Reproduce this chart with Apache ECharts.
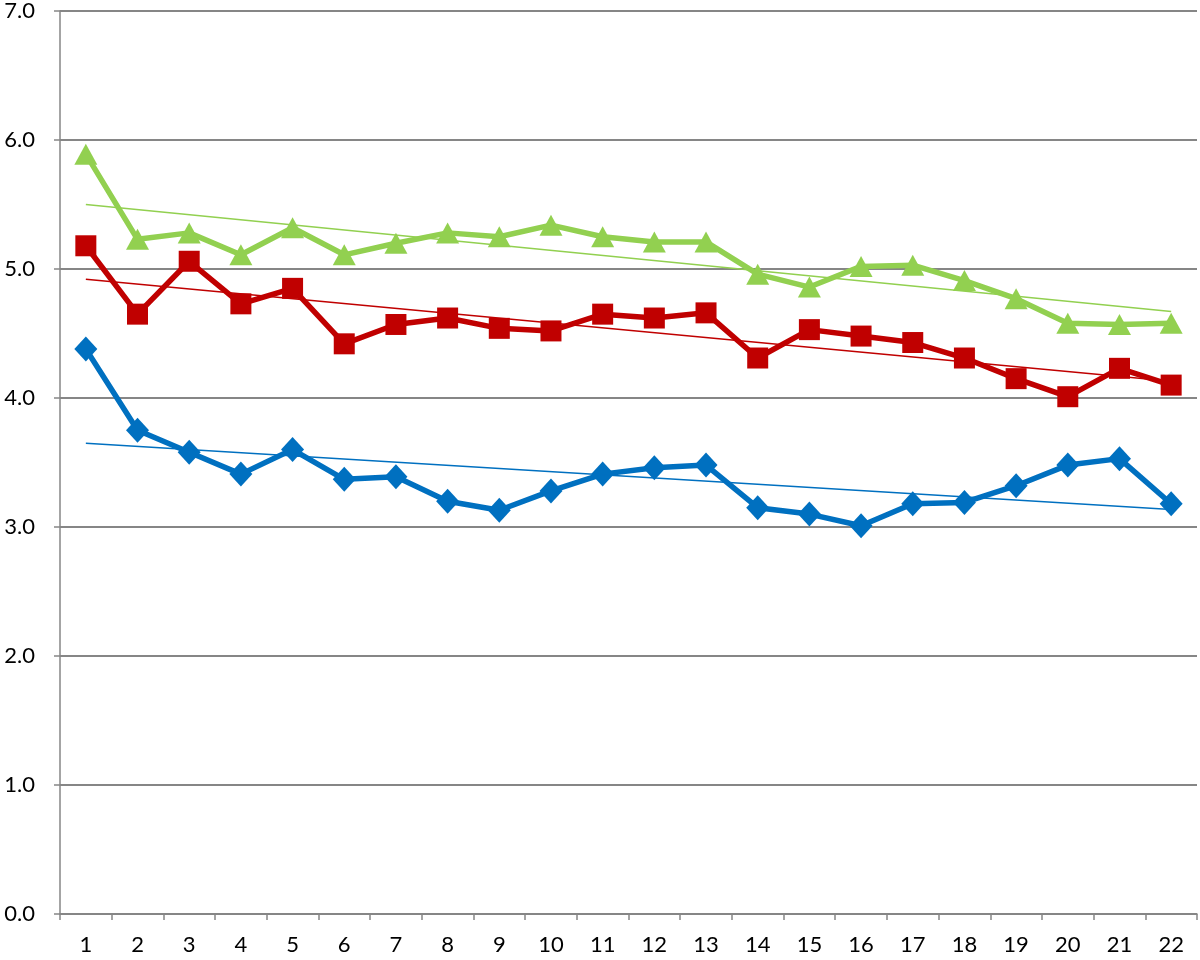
<!DOCTYPE html>
<html>
<head>
<meta charset="utf-8">
<title>chart</title>
<script src="https://cdn.jsdelivr.net/npm/echarts@6/dist/echarts.min.js"></script>
<style>
  html, body { margin: 0; padding: 0; background: #fff; }
  #chart { width: 1200px; height: 960px; }
</style>
</head>
<body>
<div id="chart"></div>
<script>
// x categories 1..22
const categories = ['1', '2', '3', '4', '5', '6', '7', '8', '9', '10', '11',
  '12', '13', '14', '15', '16', '17', '18', '19', '20', '21', '22']

// series values
const blueValues = [4.38, 3.75, 3.58, 3.41, 3.60, 3.37, 3.39, 3.20, 3.13, 3.28, 3.41,
  3.46, 3.48, 3.15, 3.10, 3.01, 3.18, 3.19, 3.32, 3.48, 3.53, 3.18]
const redValues = [5.18, 4.65, 5.06, 4.73, 4.85, 4.42, 4.57, 4.62, 4.54, 4.52, 4.65,
  4.62, 4.66, 4.31, 4.53, 4.48, 4.43, 4.31, 4.15, 4.01, 4.23, 4.10]
const greenValues = [5.89, 5.23, 5.28, 5.11, 5.32, 5.11, 5.20, 5.28, 5.25, 5.34, 5.25,
  5.21, 5.21, 4.96, 4.86, 5.02, 5.03, 4.91, 4.77, 4.58, 4.57, 4.58]

// trend line end points (first and last category)
const blueTrend = [3.65, 3.135]
const redTrend = [4.92, 4.13]
const greenTrend = [5.50, 4.67]

// y axis ticks
const yTicks = [0, 1, 2, 3, 4, 5, 6, 7]

const gray = '#868686'
const font = 'Lato, "Open Sans", sans-serif'

function trendData(ends) {
  // only the two end points, joined by the library
  return [[0, ends[0]], [categories.length - 1, ends[1]]]
}

function dataSeries(name, values, color, symbol, size) {
  return {
    name: name,
    type: 'line',
    data: values,
    symbol: symbol,
    symbolSize: size,
    showAllSymbol: true,
    z: 3,
    lineStyle: { color: color, width: 5.5 },
    itemStyle: { color: color }
  }
}

function trendSeries(name, ends, color) {
  return {
    name: name,
    type: 'line',
    data: trendData(ends),
    symbol: 'none',
    z: 4,
    silent: true,
    lineStyle: { color: color, width: 1.5 }
  }
}

const chart = echarts.init(document.getElementById('chart'), null, { renderer: 'canvas' })

chart.setOption({
  animation: false,
  backgroundColor: '#fff',
  grid: {
    left: 60,
    right: 3,
    top: 11,
    bottom: 46
  },
  xAxis: {
    type: 'category',
    data: categories,
    boundaryGap: true,
    axisLine: { show: true, lineStyle: { color: gray, width: 1.5 } },
    axisTick: { show: true, length: 6, lineStyle: { color: gray, width: 1.5 } },
    axisLabel: {
      color: '#000',
      fontFamily: font,
      fontSize: 22,
      margin: 20
    },
    splitLine: { show: false }
  },
  yAxis: {
    type: 'value',
    min: yTicks[0],
    max: yTicks[yTicks.length - 1],
    interval: 1,
    axisLine: { show: true, lineStyle: { color: gray, width: 1.5 } },
    axisTick: { show: true, length: 6, lineStyle: { color: gray, width: 1.5 } },
    axisLabel: {
      color: '#000',
      fontFamily: font,
      fontSize: 22,
      margin: 25,
      formatter: function (v) { return v.toFixed(1) }
    },
    splitLine: { show: true, lineStyle: { color: gray, width: 1.8 } }
  },
  series: [
    dataSeries('blue', blueValues, '#0070c0', 'diamond', [23, 25]),
    dataSeries('red', redValues, '#c00000', 'rect', 21),
    dataSeries('green', greenValues, '#92d050', 'triangle', [23, 21]),
    trendSeries('blue trend', blueTrend, '#0070c0'),
    trendSeries('red trend', redTrend, '#c00000'),
    trendSeries('green trend', greenTrend, '#92d050')
  ]
})
</script>
</body>
</html>
